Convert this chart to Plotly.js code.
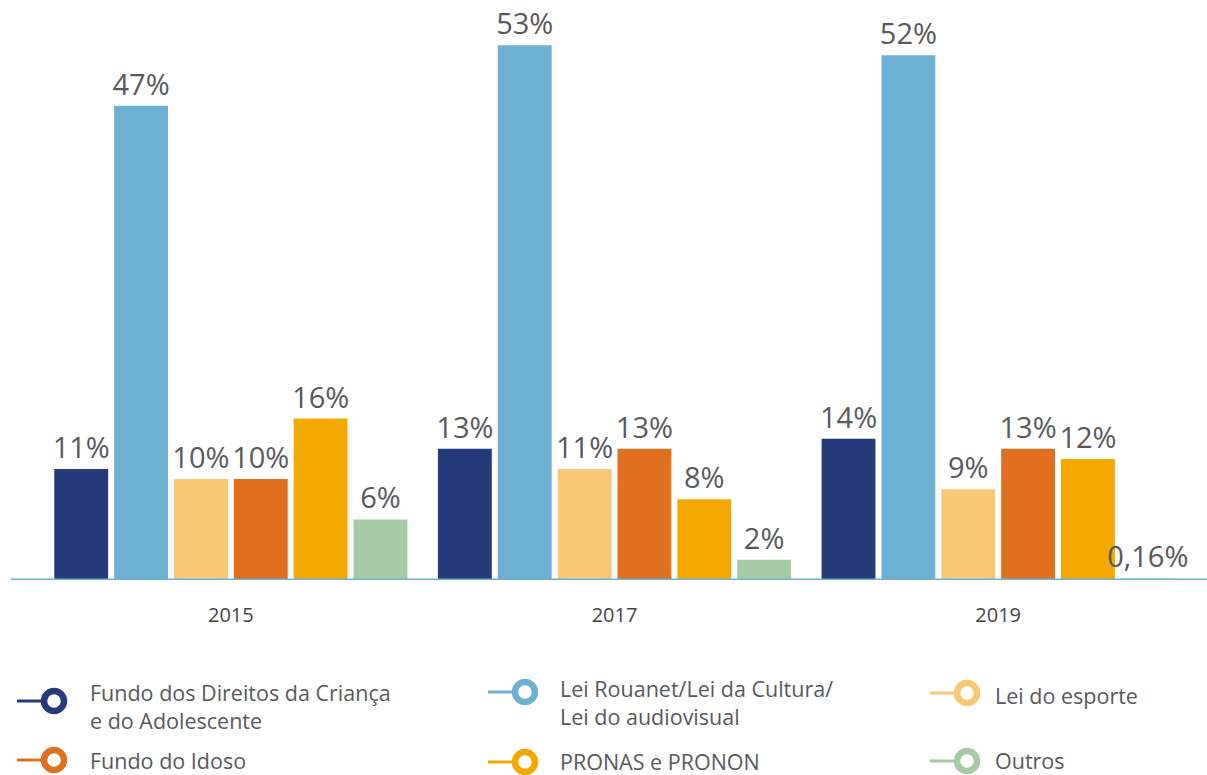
<!DOCTYPE html>
<html>
<head>
<meta charset="utf-8">
<script src="https://cdn.plot.ly/plotly-3.0.1.min.js"></script>
<style>html,body{margin:0;padding:0;background:#fff;}#chart{width:1207px;height:775px;}</style>
</head>
<body>
<div id="chart"></div>
<script>
const years = ['2015', '2017', '2019'];
const seriesNames = [
  'Fundo dos Direitos da Criança<br>e do Adolescente',
  'Lei Rouanet/Lei da Cultura/<br>Lei do audiovisual',
  'Lei do esporte',
  'Fundo do Idoso',
  'PRONAS e PRONON',
  'Outros'
];
const fundoCrianca = [11, 13, 14];
const leiRouanet = [47, 53, 52];
const leiEsporte = [10, 11, 9];
const fundoIdoso = [10, 13, 13];
const pronas = [16, 8, 12];
const outros = [6, 2, 0.16];
const seriesValues = [fundoCrianca, leiRouanet, leiEsporte, fundoIdoso, pronas, outros];
const colors = ['#243a7a', '#6db1d2', '#f9c874', '#e0701d', '#f5a800', '#a5cba5'];

const W = 1207, H = 775;
const M = {l: 39, r: 17, t: 10, b: 195};
const PW = W - M.l - M.r, PH = H - M.t - M.b;
const px = x => (x - M.l) / PW;
const py = y => 1 - (y - M.t) / PH;
const FONT = 'Open Sans, Noto Sans, sans-serif';
const TXT = '#58595b';

const fmt = v => String(v).replace('.', ',') + '%';

const traces = seriesValues.map((vals, i) => ({
  type: 'bar',
  x: years,
  y: vals,
  name: seriesNames[i],
  marker: {color: colors[i]},
  text: vals.map(fmt),
  textposition: 'outside',
  textangle: 0,
  constraintext: 'none',
  cliponaxis: false,
  textfont: {family: FONT, size: 29, color: TXT},
  hoverinfo: 'skip'
}));

// legend layout (pixel positions)
const legPos = [
  {lx: 17, cx: 54, cy: 701, tx: 88, ty: 706},
  {lx: 488, cx: 525, cy: 692, tx: 558, ty: 702},
  {lx: 930, cx: 967, cy: 693, tx: 993, ty: 695},
  {lx: 17, cx: 54, cy: 760, tx: 88, ty: 760},
  {lx: 488, cx: 525, cy: 762, tx: 558, ty: 761},
  {lx: 930, cx: 967, cy: 761, tx: 993, ty: 760}
];
const R = 10;
const shapes = [{
  type: 'line', xref: 'paper', yref: 'y',
  x0: px(11), x1: px(1207), y0: 0, y1: 0,
  line: {color: '#6db1d2', width: 3}, layer: 'above'
}];
const annotations = [];
legPos.forEach((p, i) => {
  shapes.push({
    type: 'line', xref: 'paper', yref: 'paper',
    x0: px(p.lx), x1: px(p.cx - R), y0: py(p.cy), y1: py(p.cy),
    line: {color: colors[i], width: 3}
  });
  shapes.push({
    type: 'circle', xref: 'paper', yref: 'paper',
    x0: px(p.cx - R), x1: px(p.cx + R), y0: py(p.cy - R), y1: py(p.cy + R),
    line: {color: colors[i], width: 6.5}, fillcolor: '#ffffff'
  });
  annotations.push({
    xref: 'paper', yref: 'paper', x: px(p.tx), y: py(p.ty),
    xanchor: 'left', yanchor: 'middle', align: 'left', showarrow: false,
    text: seriesNames[i],
    font: {family: FONT, size: 21.5, color: TXT}
  });
});

const layout = {
  width: W, height: H,
  margin: M,
  paper_bgcolor: '#fff', plot_bgcolor: '#fff',
  barmode: 'group',
  bargap: 0.064,
  bargroupgap: 0.1,
  showlegend: false,
  xaxis: {
    type: 'category', showline: false, showgrid: false, zeroline: false,
    ticks: '', ticklabelstandoff: 21,
    tickfont: {family: FONT, size: 20, color: '#444'}
  },
  yaxis: {range: [0, PH / 10.09], visible: false, showgrid: false, zeroline: false},
  shapes: shapes,
  annotations: annotations
};

Plotly.newPlot('chart', traces, layout, {displayModeBar: false, staticPlot: true});
</script>
</body>
</html>
